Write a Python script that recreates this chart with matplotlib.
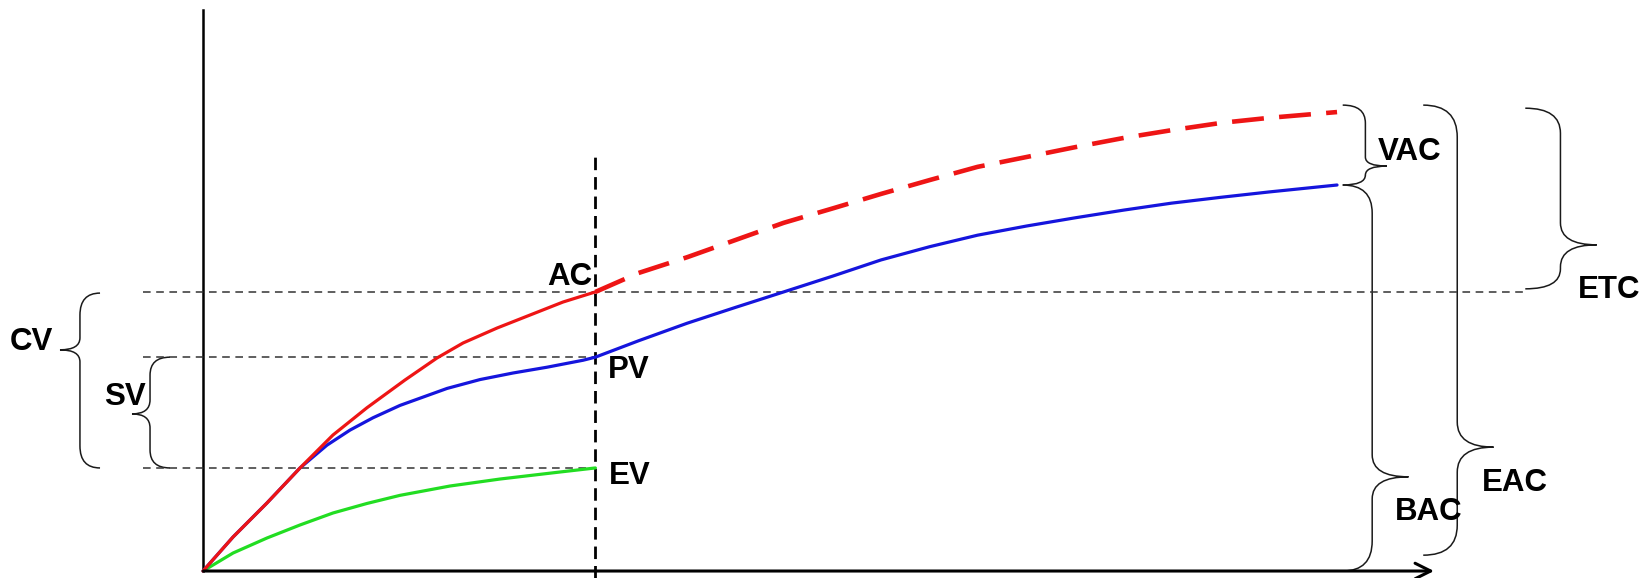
import matplotlib.pyplot as plt
from matplotlib.path import Path
from matplotlib.patches import PathPatch

plt.rcParams['font.family'] = ['Liberation Sans', 'DejaVu Sans']
plt.rcParams['lines.scale_dashes'] = False

# time in % of planned duration, cost in % of BAC
status_date = 34.6
ac_t = [0, 2.65, 5.64, 8.55, 11.46, 14.46, 17.81, 20.63, 22.93,
        25.93, 28.84, 31.75, 34.6]
ac_v = [0, 8.81, 17.62, 26.68, 35.23, 42.3, 49.48, 55.18, 59.07,
        62.95, 66.32, 69.69, 72.3]
pv_t = [0, 2.65, 5.64, 8.55, 10.93, 12.96, 14.99, 17.37, 21.52, 24.43,
        27.34, 30.34, 33.51, 34.6, 38.42, 42.7, 46.97, 51.2, 55.53, 59.8, 64.08,
        68.3, 72.63, 76.9, 81.19, 85.4, 89.74, 94.0, 100]
pv_v = [0, 8.81, 17.62, 26.68, 32.6, 36.5, 39.7, 42.9, 47.3, 49.6,
        51.3, 52.8, 54.6, 55.4, 59.66, 64.2, 68.31, 72.3, 76.4, 80.6, 84.02,
        87.0, 89.38, 91.5, 93.5, 95.3, 96.81, 98.2, 100]
ev_t = [0, 2.65, 5.64, 8.55, 11.46, 14.46, 17.37, 21.78, 26.19, 31.48, 34.6]
ev_v = [0, 4.66, 8.55, 11.92, 15.03, 17.5, 19.6, 22.02, 23.83, 25.65, 26.7]
# forecast of actual cost to completion
fc_t = [34.6, 38.4, 42.7, 47.0, 51.2, 55.6, 59.8, 64.1, 68.3, 72.7, 76.9,
        81.2, 85.4, 89.8, 94.0, 100]
fc_v = [72.3, 77.2, 81.3, 85.8, 90.2, 94.0, 97.7, 101.3, 104.7, 107.3, 109.8,
        112.2, 114.2, 116.1, 117.4, 118.9]

AC, PV, EV = 72.3, 55.4, 26.7
BAC, EAC = 100, 118.9

fig = plt.figure(figsize=(16.43, 5.78), dpi=100)
ax = fig.add_axes([0, 0, 1, 1])
ax.set_xlim(-17.90, 126.98)
ax.set_ylim(-1.81, 147.93)
ax.axis('off')

KY = 3.86  # pixels per cost unit, used for brace curls

# axes
ax.plot([0, 0], [0, 145.3], color='black', lw=1.8)
ax.annotate('', xy=(108.8, 0), xytext=(-0.2, 0),
            arrowprops=dict(arrowstyle='->', lw=2.2, color='black', mutation_scale=28))

# reference lines
ref = dict(color='#333333', lw=1.1, dashes=(5.5, 4))
ax.plot([-5.3, 116.6], [AC, AC], **ref)
ax.plot([-5.3, status_date], [PV, PV], **ref)
ax.plot([-5.3, status_date], [EV, EV], **ref)
ax.plot([status_date, status_date], [-1.8, 107.8], color='black', lw=2, dashes=(9, 5))

# curves
curve = dict(lw=2.3, solid_capstyle='round', solid_joinstyle='round')
ax.plot(ev_t, ev_v, color='#22dd22', **curve)
ax.plot(pv_t, pv_v, color='#1515dd', **curve)
ax.plot(ac_t, ac_v, color='#ee1515', **curve)
ax.plot(fc_t, fc_v, color='#ee1515', lw=3.3, dashes=(23, 11))


def brace(x_end, x_spine, x_tip, y_top, y_bot, y_tip, r_top=20, r_tip=15, r_bot=20):
    rt, rm, rb = r_top / KY, r_tip / KY, r_bot / KY
    verts = [(x_end, y_top), (x_spine, y_top), (x_spine, y_top - rt),
             (x_spine, y_tip + rm), (x_spine, y_tip), (x_tip, y_tip),
             (x_spine, y_tip), (x_spine, y_tip - rm),
             (x_spine, y_bot + rb), (x_spine, y_bot), (x_end, y_bot)]
    codes = [Path.MOVETO, Path.CURVE3, Path.CURVE3, Path.LINETO,
             Path.CURVE3, Path.CURVE3, Path.CURVE3, Path.CURVE3,
             Path.LINETO, Path.CURVE3, Path.CURVE3]
    ax.add_patch(PathPatch(Path(verts, codes), fill=False, ec='#1a1a1a', lw=1.1))


brace(-9.08, -10.85, -12.61, 72.0, EV, 57.3, 22, 12, 22)      # CV
brace(-2.91, -4.67, -6.26, PV, EV, 40.7, 18, 14, 18)          # SV
brace(100.5, 102.5, 104.4, 120.7, BAC, 104.9, 18, 9, 10)      # VAC
brace(100.5, 103.1, 106.3, BAC, 0, 24.4, 28, 22, 30)          # BAC
brace(107.6, 110.6, 113.8, 120.7, 4.1, 32.1, 32, 25, 30)      # EAC
brace(116.6, 119.7, 122.9, 119.9, 73.1, 84.5, 25, 22, 20)     # ETC

txt = dict(fontsize=22.5, fontweight='bold', va='center', color='black')
ax.text(-15.1, 59.3, 'CV', ha='center', **txt)
ax.text(-6.9, 45.1, 'SV', ha='center', **txt)
ax.text(34.3, 76.2, 'AC', ha='right', **txt)
ax.text(35.7, 52.1, 'PV', ha='left', **txt)
ax.text(35.8, 24.6, 'EV', ha='left', **txt)
ax.text(103.6, 108.5, 'VAC', ha='left', **txt)
ax.text(105.1, 15.3, 'BAC', ha='left', **txt)
ax.text(112.8, 22.8, 'EAC', ha='left', **txt)
ax.text(121.2, 72.8, 'ETC', ha='left', **txt)

plt.savefig('out.png', dpi=100)
